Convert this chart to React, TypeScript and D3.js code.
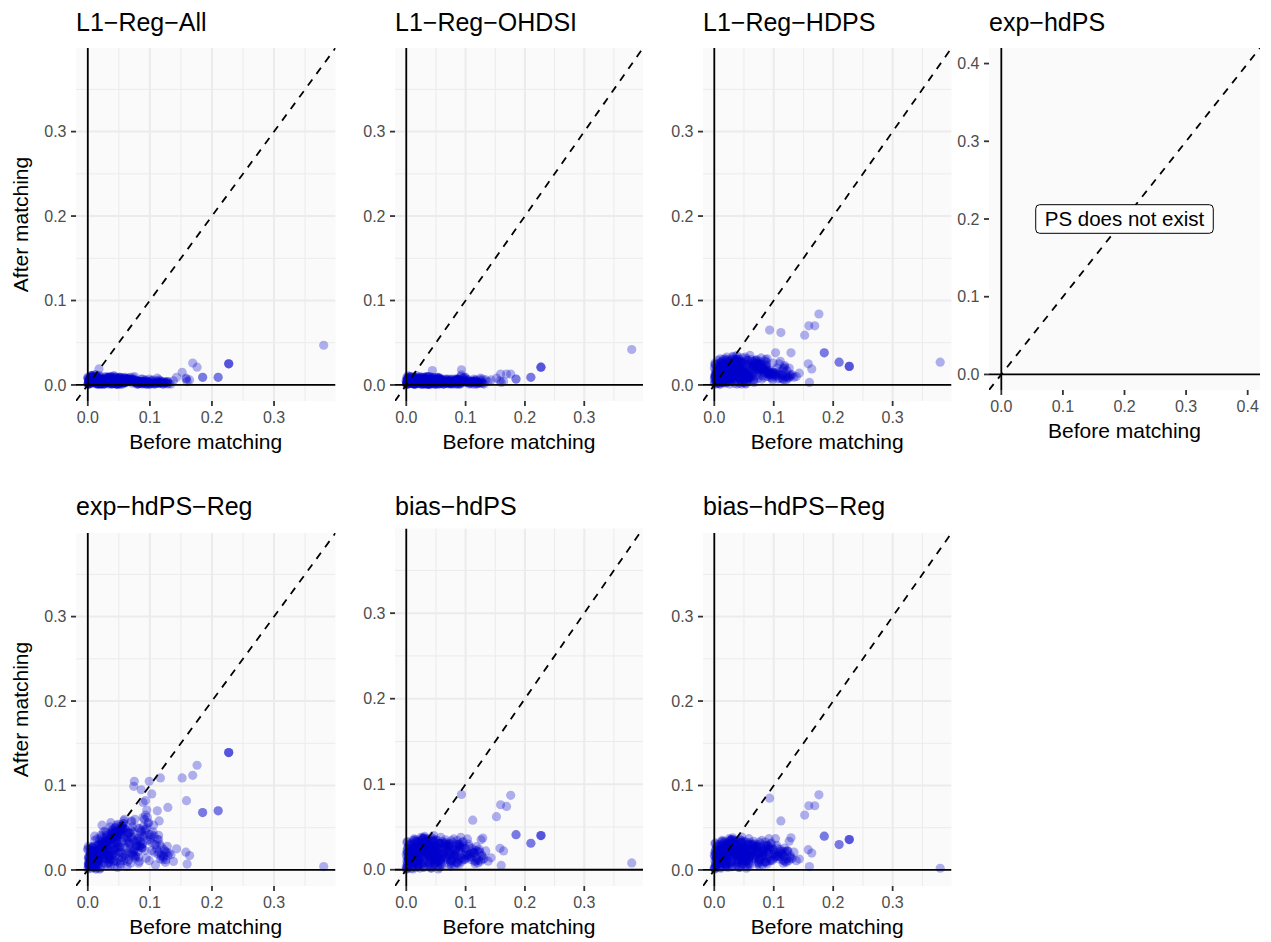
import React, { useEffect, useRef } from "react";
import * as d3 from "d3";

// ---------------- DATA ----------------
const panelTitles = [
  "L1−Reg−All",
  "L1−Reg−OHDSI",
  "L1−Reg−HDPS",
  "exp−hdPS",
  "exp−hdPS−Reg",
  "bias−hdPS",
  "bias−hdPS−Reg",
];

const xAxisTitle = "Before matching";
const yAxisTitle = "After matching";
const noPsLabel = "PS does not exist";
const noPsLabelPos = [0.2, 0.2];
const ticksMain = [0, 0.1, 0.2, 0.3];
const minorMain = [0.05, 0.15, 0.25, 0.35];
const ticksExp = [0, 0.1, 0.2, 0.3, 0.4];
const expHdPSLimit = 0.4;

// standardized difference before matching (same covariates in every panel)
const beforeMatching = [
  .001,.003,.000,.002,.006,.004,.001,.008,.005,.002,
  .009,.003,.007,.000,.004,.010,.006,.001,.008,.003,
  .012,.018,.011,.025,.015,.021,.013,.029,.017,.023,
  .010,.027,.014,.019,.026,.011,.022,.016,.028,.013,
  .020,.024,.015,.030,.012,.018,.026,.014,.021,.017,
  .029,.011,.023,.016,.027,.019,.013,.025,.022,.028,
  .031,.044,.036,.052,.039,.058,.033,.047,.041,.055,
  .035,.049,.032,.043,.057,.038,.051,.034,.046,.053,
  .040,.059,.037,.045,.050,.033,.042,.056,.048,.036,
  .054,.039,.031,.047,.044,.058,.035,.051,.041,.049,
  .037,.053,.043,.032,.056,.046,.039,.052,.034,.045,
  .062,.071,.085,.066,.093,.078,.064,.089,.073,.097,
  .068,.082,.061,.076,.091,.069,.084,.074,.099,.065,
  .080,.087,.063,.072,.095,.077,.067,.088,.083,.070,
  .092,.075,.061,.086,.079,.096,.066,.081,.090,.074,
  .102,.118,.107,.125,.111,.131,.105,.121,.114,.128,
  .109,.134,.116,.103,.123,
  .380,.227,.227,.227,.210,.210,.185,.185,.176,.169,
  .159,.152,.158,.164,.160,.143,.138,.129,.093,.112,
  .103,.117,.099,.075,.074,.086,.115,.122,.127,.114,
  .119,.018,
  .004,.011,.002,.016,.007,.013,.001,.019,.009,.005,
  .014,.003,.017,.008,.012,.000,.018,.006,.010,.015,
  .002,.020,.007,.013,.004,.016,.009,.001,.011,.018,
  .005,.014,.003,.019,.008,.012,.006,.017,.002,.010,
  .015,.004,.013,.007,.020,.001,.009,.016,.005,.011,
  .023,.041,.032,.055,.027,.048,.036,.059,.021,.044,
  .030,.052,.038,.025,.047,.034,.057,.029,.043,.050,
  .022,.039,.054,.031,.046,.026,.058,.035,.042,.028,
  .051,.037,.024,.049,.033,.056,.040,.027,.045,.053,
  .030,.021,.047,.036,.060,.025,.043,.038,.052,.032,
  .048,.023,.055,.034,.041,.028,.057,.039,.044,.026,
  .050,.031,.022,.046,.037,.054,.029,.042,.033,.059,
  .024,.045,.035,.051,.040,.027,.058,.032,.048,.038,
  .053,.025,.043,.030,.056,.036,.047,.022,.049,.034,
  .063,.081,.072,.094,.067,.108,.076,.088,.119,.070,
  .085,.064,.098,.079,.112,.069,.091,.074,.126,.083,
  .061,.101,.077,.089,.066,.115,.073,.096,.082,.106,
  .068,.087,.122,.075,.093,.062,.110,.080,.099,.071,
  .129,.084,.065,.103,.078,.092,.117,.070,.086,.095,
  .113,.067,.090,.124,.076,.100,.083,.064,.107,.088,
];

const afterL1RegAll = [
  .002,.004,.001,.006,.003,.008,.002,.005,.010,.001,
  .004,.007,.003,.009,.002,.005,.011,.001,.006,.003,
  .005,.002,.008,.004,.010,.001,.006,.003,.009,.004,
  .007,.002,.005,.011,.003,.008,.001,.006,.004,.009,
  .002,.007,.005,.003,.010,.001,.004,.008,.006,.002,
  .005,.009,.003,.007,.001,.004,.012,.006,.002,.008,
  .004,.007,.002,.005,.009,.003,.006,.001,.008,.004,
  .010,.002,.006,.003,.005,.008,.001,.007,.004,.009,
  .003,.006,.002,.005,.008,.004,.011,.001,.007,.003,
  .005,.002,.009,.004,.006,.003,.008,.001,.005,.007,
  .002,.004,.010,.006,.003,.008,.001,.005,.007,.002,
  .003,.006,.002,.005,.001,.004,.008,.002,.006,.003,
  .005,.001,.007,.003,.004,.009,.002,.005,.003,.006,
  .001,.004,.007,.002,.005,.003,.008,.001,.004,.006,
  .002,.005,.003,.007,.001,.004,.006,.002,.003,.005,
  .002,.004,.001,.003,.005,.002,.006,.001,.003,.004,
  .002,.001,.003,.005,.002,
  .047,.025,.025,.025,.009,.009,.009,.009,.021,.026,
  .007,.015,.008,.006,.004,.009,.005,.004,.006,.008,
  .005,.005,.007,.010,.008,.004,.006,.004,.003,.002,
  .003,.019,
  .003,.006,.001,.008,.004,.002,.007,.005,.010,.003,
  .001,.006,.009,.002,.005,.008,.004,.011,.003,.007,
  .005,.002,.009,.004,.006,.001,.008,.003,.012,.005,
  .007,.002,.004,.010,.006,.003,.009,.001,.005,.008,
  .002,.006,.004,.011,.003,.007,.005,.002,.009,.004,
  .006,.002,.008,.004,.001,.007,.003,.009,.005,.002,
  .006,.004,.010,.001,.005,.008,.003,.006,.002,.007,
  .004,.009,.001,.005,.003,.008,.002,.006,.004,.010,
  .003,.007,.005,.001,.008,.004,.002,.006,.009,.003,
  .005,.007,.001,.004,.008,.002,.006,.003,.005,.009,
  .002,.004,.007,.001,.006,.003,.008,.005,.002,.004,
  .009,.003,.006,.001,.005,.007,.002,.004,.008,.003,
  .006,.001,.005,.009,.002,.004,.007,.003,.006,.001,
  .008,.004,.002,.005,.007,.003,.006,.001,.004,.008,
  .004,.002,.006,.003,.005,.001,.004,.007,.002,.005,
  .003,.006,.001,.004,.002,.005,.003,.006,.002,.004,
  .007,.001,.005,.003,.006,.002,.004,.001,.005,.003,
  .006,.002,.001,.004,.003,.007,.002,.005,.003,.004,
  .001,.003,.006,.002,.004,.005,.002,.006,.003,.001,
  .004,.005,.002,.003,.006,.001,.004,.007,.002,.003,
];

const afterL1RegOHDSI = [
  .003,.001,.005,.002,.007,.004,.001,.009,.003,.006,
  .002,.008,.004,.001,.006,.003,.010,.002,.005,.004,
  .004,.006,.002,.009,.003,.005,.001,.007,.004,.010,
  .002,.006,.003,.008,.001,.005,.004,.007,.002,.009,
  .003,.005,.001,.006,.008,.002,.004,.007,.003,.011,
  .001,.005,.008,.002,.006,.004,.009,.003,.005,.001,
  .006,.017,.003,.007,.002,.005,.008,.001,.004,.009,
  .003,.006,.002,.007,.004,.010,.001,.005,.003,.008,
  .006,.002,.004,.009,.001,.005,.003,.007,.002,.006,
  .008,.004,.001,.005,.003,.007,.010,.002,.004,.006,
  .001,.008,.003,.005,.002,.007,.004,.009,.001,.006,
  .005,.002,.007,.003,.012,.004,.001,.006,.003,.008,
  .002,.005,.004,.007,.001,.003,.006,.002,.009,.004,
  .003,.006,.001,.005,.008,.002,.004,.007,.003,.005,
  .010,.002,.004,.006,.001,.003,.007,.005,.002,.004,
  .003,.005,.002,.008,.004,.001,.006,.003,.007,.002,
  .004,.006,.001,.005,.003,
  .042,.021,.021,.021,.009,.009,.007,.007,.013,.013,
  .013,.008,.005,.004,.003,.006,.004,.007,.018,.005,
  .006,.004,.009,.005,.006,.007,.003,.002,.005,.004,
  .002,.008,
  .005,.002,.007,.001,.004,.009,.003,.006,.002,.008,
  .004,.001,.006,.010,.003,.005,.002,.007,.004,.001,
  .008,.003,.005,.002,.009,.004,.006,.001,.003,.007,
  .002,.005,.011,.003,.006,.001,.004,.008,.002,.005,
  .007,.003,.001,.006,.004,.009,.002,.005,.003,.006,
  .003,.007,.002,.005,.009,.001,.004,.006,.002,.008,
  .005,.003,.001,.007,.004,.010,.002,.005,.006,.003,
  .008,.001,.004,.007,.002,.005,.003,.009,.001,.006,
  .004,.002,.008,.005,.003,.007,.001,.004,.006,.002,
  .009,.003,.005,.001,.007,.004,.002,.006,.003,.008,
  .005,.001,.004,.007,.002,.006,.003,.010,.004,.001,
  .005,.008,.002,.003,.006,.001,.007,.004,.002,.005,
  .003,.009,.001,.006,.004,.002,.007,.005,.003,.001,
  .006,.002,.008,.004,.001,.005,.003,.007,.002,.004,
  .003,.005,.001,.004,.006,.002,.003,.005,.001,.007,
  .004,.002,.005,.003,.001,.006,.004,.002,.003,.005,
  .002,.004,.006,.001,.003,.005,.002,.004,.007,.001,
  .003,.006,.002,.004,.005,.001,.003,.002,.006,.004,
  .002,.001,.005,.003,.004,.002,.006,.003,.001,.005,
  .004,.002,.003,.006,.001,.004,.002,.005,.003,.002,
];

const afterL1RegHDPS = [
  .012,.004,.020,.008,.015,.002,.024,.010,.006,.017,
  .003,.013,.021,.007,.018,.001,.011,.026,.005,.014,
  .018,.007,.025,.012,.003,.029,.015,.009,.022,.005,
  .031,.011,.019,.002,.026,.014,.008,.023,.017,.004,
  .028,.010,.020,.006,.016,.024,.001,.013,.030,.009,
  .021,.003,.027,.012,.007,.019,.025,.015,.005,.022,
  .014,.026,.006,.033,.019,.009,.028,.003,.022,.012,
  .030,.017,.007,.024,.011,.035,.016,.002,.027,.013,
  .020,.008,.031,.018,.005,.025,.010,.029,.015,.021,
  .004,.026,.012,.032,.018,.009,.023,.006,.028,.014,
  .019,.001,.027,.011,.024,.016,.030,.008,.020,.013,
  .020,.012,.028,.006,.017,.024,.010,.031,.015,.008,
  .025,.018,.004,.022,.013,.029,.009,.019,.026,.014,
  .007,.023,.016,.030,.011,.021,.003,.027,.015,.018,
  .012,.025,.009,.020,.032,.014,.006,.024,.017,.011,
  .010,.023,.015,.008,.028,.012,.020,.006,.017,.013,
  .025,.009,.019,.014,.011,
  .027,.022,.022,.022,.027,.027,.038,.038,.084,.070,
  .070,.059,.025,.019,.003,.014,.010,.038,.065,.062,
  .038,.020,.015,.025,.018,.030,.012,.017,.011,.008,
  .021,.031,
  .016,.007,.024,.003,.012,.028,.009,.019,.001,.014,
  .022,.005,.017,.010,.026,.002,.013,.020,.008,.030,
  .011,.004,.018,.025,.006,.015,.021,.003,.027,.009,
  .013,.019,.001,.023,.008,.016,.029,.005,.011,.020,
  .024,.007,.014,.002,.018,.010,.026,.004,.012,.022,
  .020,.009,.031,.014,.004,.026,.017,.011,.033,.006,
  .023,.015,.001,.028,.012,.019,.008,.030,.016,.003,
  .025,.010,.021,.034,.007,.018,.013,.027,.002,.022,
  .015,.029,.005,.019,.011,.024,.032,.008,.017,.013,
  .026,.003,.020,.012,.035,.016,.006,.023,.010,.028,
  .014,.021,.004,.018,.030,.009,.025,.015,.007,.019,
  .027,.011,.022,.001,.017,.031,.013,.024,.008,.020,
  .005,.028,.016,.012,.026,.019,.009,.033,.014,.021,
  .002,.024,.018,.010,.029,.006,.015,.025,.011,.017,
  .018,.011,.024,.009,.027,.013,.021,.015,.010,.029,
  .014,.022,.006,.019,.012,.026,.016,.008,.020,.017,
  .025,.012,.018,.010,.023,.007,.028,.014,.020,.011,
  .016,.024,.009,.021,.013,.030,.008,.019,.015,.026,
  .010,.017,.022,.012,.027,.014,.006,.023,.018,.013,
  .011,.020,.016,.009,.025,.014,.019,.028,.007,.021,
];

// exp-hdPS: the propensity score does not exist, no points
const afterExpHdPS: number[] = [];

const afterExpHdPSReg = [
  .015,.005,.024,.010,.002,.019,.008,.027,.012,.004,
  .021,.007,.016,.001,.025,.011,.018,.006,.022,.013,
  .022,.008,.035,.014,.029,.003,.018,.038,.011,.026,
  .005,.032,.016,.024,.009,.040,.020,.013,.034,.002,
  .027,.017,.037,.007,.023,.030,.012,.019,.041,.006,
  .028,.015,.033,.010,.021,.036,.004,.025,.031,.018,
  .025,.040,.012,.046,.031,.055,.008,.036,.020,.049,
  .015,.043,.028,.005,.038,.022,.052,.033,.010,.045,
  .018,.060,.029,.041,.014,.035,.024,.048,.003,.039,
  .027,.044,.017,.032,.050,.011,.037,.021,.047,.030,
  .006,.042,.026,.034,.019,.053,.013,.046,.023,.036,
  .035,.020,.045,.012,.065,.028,.040,.080,.018,.055,
  .030,.015,.048,.025,.060,.008,.038,.022,.042,.033,
  .050,.026,.004,.036,.071,.017,.044,.031,.010,.057,
  .023,.039,.014,.047,.029,.062,.021,.034,.052,.016,
  .033,.016,.040,.009,.025,.020,.045,.012,.036,.028,
  .006,.018,.030,.042,.024,
  .004,.139,.139,.139,.070,.070,.068,.068,.124,.112,
  .082,.109,.021,.017,.007,.025,.010,.074,.082,.070,
  .090,.109,.105,.105,.099,.095,.058,.017,.021,.041,
  .027,.025,
  .012,.021,.004,.017,.027,.008,.014,.001,.023,.010,
  .019,.006,.030,.015,.003,.025,.011,.018,.007,.022,
  .016,.002,.026,.009,.020,.013,.005,.028,.018,.011,
  .024,.007,.015,.029,.003,.019,.012,.021,.008,.026,
  .014,.010,.001,.023,.017,.006,.028,.013,.020,.009,
  .030,.045,.018,.052,.026,.038,.012,.049,.034,.021,
  .041,.008,.036,.028,.047,.016,.055,.031,.023,.043,
  .014,.037,.050,.025,.040,.019,.058,.033,.010,.046,
  .027,.042,.022,.054,.035,.015,.048,.029,.039,.006,
  .044,.024,.032,.051,.017,.036,.011,.046,.028,.040,
  .020,.053,.033,.009,.043,.025,.048,.037,.016,.031,
  .047,.013,.039,.027,.056,.021,.034,.044,.005,.038,
  .024,.050,.019,.042,.030,.014,.049,.035,.026,.041,
  .011,.045,.032,.022,.052,.018,.039,.029,.046,.015,
  .038,.022,.051,.014,.044,.030,.060,.026,.018,.047,
  .033,.010,.056,.028,.036,.019,.041,.024,.012,.049,
  .027,.039,.016,.062,.031,.021,.045,.035,.008,.053,
  .025,.042,.015,.034,.048,.020,.030,.037,.011,.058,
  .017,.029,.043,.023,.035,.046,.013,.039,.027,.050,
  .019,.032,.040,.022,.014,.036,.028,.044,.021,.031,
];

const afterBiasHdPS = [
  .010,.003,.018,.007,.022,.013,.001,.016,.005,.020,
  .009,.025,.012,.004,.017,.008,.023,.002,.014,.011,
  .015,.026,.006,.020,.032,.011,.024,.003,.029,.017,
  .008,.022,.035,.013,.019,.001,.027,.010,.031,.016,
  .005,.023,.012,.037,.018,.007,.028,.014,.021,.033,
  .009,.025,.002,.019,.030,.012,.036,.006,.024,.015,
  .020,.033,.011,.027,.004,.038,.016,.029,.008,.024,
  .035,.013,.022,.002,.031,.018,.009,.026,.040,.014,
  .028,.006,.021,.034,.012,.030,.017,.003,.025,.036,
  .010,.023,.039,.015,.027,.007,.032,.019,.013,.029,
  .024,.005,.037,.020,.011,.034,.016,.026,.009,.022,
  .018,.028,.009,.035,.014,.024,.031,.006,.021,.012,
  .027,.016,.033,.004,.022,.019,.030,.010,.025,.015,
  .036,.008,.020,.029,.013,.026,.032,.011,.023,.017,
  .038,.007,.019,.034,.014,.028,.022,.005,.030,.016,
  .014,.027,.018,.010,.025,.013,.030,.008,.020,.016,
  .012,.022,.007,.017,.024,
  .008,.040,.040,.040,.031,.031,.041,.041,.087,.074,
  .076,.062,.025,.022,.005,.014,.010,.037,.088,.058,
  .036,.015,.012,.022,.030,.028,.010,.011,.017,.020,
  .012,.033,
  .014,.025,.006,.019,.031,.010,.022,.003,.017,.028,
  .008,.020,.035,.012,.024,.001,.016,.029,.009,.021,
  .033,.005,.018,.026,.011,.023,.002,.015,.030,.007,
  .019,.027,.013,.004,.022,.034,.010,.018,.025,.006,
  .016,.029,.003,.021,.012,.032,.008,.024,.015,.020,
  .022,.011,.030,.017,.036,.006,.025,.014,.033,.019,
  .003,.027,.016,.038,.010,.023,.031,.008,.020,.035,
  .013,.028,.001,.024,.018,.034,.009,.026,.015,.037,
  .021,.005,.029,.012,.032,.019,.025,.007,.036,.016,
  .027,.011,.033,.022,.004,.030,.017,.026,.013,.035,
  .009,.024,.031,.018,.002,.028,.020,.034,.012,.026,
  .015,.037,.007,.023,.030,.010,.027,.019,.033,.014,
  .025,.004,.031,.021,.016,.036,.011,.028,.022,.008,
  .034,.017,.026,.013,.030,.020,.006,.032,.024,.018,
  .024,.016,.031,.010,.027,.019,.034,.013,.022,.029,
  .008,.025,.017,.032,.021,.012,.028,.018,.035,.014,
  .026,.020,.011,.030,.016,.023,.006,.033,.019,.027,
  .013,.029,.021,.009,.025,.031,.015,.022,.018,.028,
  .012,.024,.030,.017,.020,.026,.010,.023,.016,.032,
  .019,.014,.027,.021,.011,.025,.018,.029,.015,.022,
];

const afterBiasHdPSReg = [
  .011,.004,.017,.006,.021,.014,.002,.015,.006,.019,
  .008,.024,.013,.003,.016,.009,.022,.001,.015,.010,
  .016,.025,.007,.021,.031,.010,.025,.004,.028,.018,
  .007,.023,.034,.012,.020,.002,.026,.011,.030,.015,
  .006,.024,.011,.036,.017,.008,.027,.015,.022,.032,
  .010,.024,.003,.018,.031,.013,.035,.005,.023,.016,
  .021,.032,.012,.026,.005,.037,.015,.030,.009,.023,
  .034,.014,.021,.003,.032,.017,.010,.025,.039,.015,
  .027,.007,.022,.033,.011,.031,.018,.004,.024,.035,
  .011,.022,.038,.016,.026,.008,.031,.020,.012,.028,
  .025,.006,.036,.019,.012,.033,.017,.025,.010,.021,
  .019,.027,.010,.034,.015,.023,.030,.007,.022,.011,
  .026,.017,.032,.005,.021,.020,.029,.009,.024,.016,
  .035,.009,.021,.028,.012,.027,.031,.010,.024,.018,
  .037,.008,.018,.033,.015,.027,.023,.006,.029,.015,
  .015,.026,.017,.011,.024,.014,.029,.009,.019,.017,
  .013,.021,.008,.016,.023,
  .002,.036,.036,.036,.030,.030,.040,.040,.089,.076,
  .076,.065,.024,.020,.004,.013,.011,.038,.085,.058,
  .037,.016,.013,.020,.028,.025,.012,.013,.015,.018,
  .010,.030,
  .015,.024,.007,.018,.030,.011,.021,.004,.016,.027,
  .009,.021,.034,.013,.023,.002,.017,.028,.010,.020,
  .032,.006,.019,.025,.012,.022,.003,.016,.029,.008,
  .018,.026,.014,.005,.021,.033,.011,.019,.024,.007,
  .017,.028,.004,.020,.013,.031,.009,.023,.016,.019,
  .021,.012,.029,.018,.035,.007,.024,.015,.032,.020,
  .004,.026,.017,.037,.011,.022,.030,.009,.021,.034,
  .014,.027,.002,.023,.019,.033,.010,.025,.016,.036,
  .020,.006,.028,.013,.031,.018,.026,.008,.035,.017,
  .026,.012,.032,.021,.005,.029,.018,.025,.014,.034,
  .010,.023,.030,.019,.003,.027,.021,.033,.013,.025,
  .016,.036,.008,.022,.029,.011,.026,.020,.032,.015,
  .024,.005,.030,.022,.017,.035,.012,.027,.021,.009,
  .033,.018,.025,.014,.029,.021,.007,.031,.023,.019,
  .023,.017,.030,.011,.026,.020,.033,.014,.021,.028,
  .009,.024,.018,.031,.022,.013,.027,.019,.034,.015,
  .025,.021,.012,.029,.017,.022,.007,.032,.020,.026,
  .014,.028,.022,.010,.024,.030,.016,.021,.019,.027,
  .013,.023,.029,.018,.021,.025,.011,.022,.017,.031,
  .020,.015,.026,.022,.012,.024,.019,.028,.016,.021,
];

const afterSeries = [
  afterL1RegAll,
  afterL1RegOHDSI,
  afterL1RegHDPS,
  afterExpHdPS,
  afterExpHdPSReg,
  afterBiasHdPS,
  afterBiasHdPSReg,
];

// ---------------- LAYOUT ----------------
const layout = [
  { l: 76, r: 335.5, t: 48, b: 401, titleY: 30.5, yTitle: true },
  { l: 395, r: 643, t: 48, b: 401, titleY: 30.5, yTitle: false },
  { l: 703, r: 951.5, t: 48, b: 401, titleY: 30.5, yTitle: false },
  { l: 989, r: 1260, t: 48, b: 390, titleY: 30.5, yTitle: false },
  { l: 76, r: 335.5, t: 533, b: 886, titleY: 515, yTitle: true },
  { l: 395, r: 643, t: 528.5, b: 886, titleY: 515, yTitle: false },
  { l: 703, r: 951.5, t: 533, b: 886, titleY: 515, yTitle: false },
];

const FONT = "'Liberation Sans', Arial, Helvetica, sans-serif";
const POINT_COLOR = "#0000CD";
const PANEL_BG = "#FAFAFA";
const GRID = "#EBEBEB";

export default function App() {
  const ref = useRef<SVGSVGElement>(null);

  useEffect(() => {
    const svg = d3.select(ref.current);
    svg.selectAll("*").remove();
    const defs = svg.append("defs");
    const dataLimit = d3.max(beforeMatching) as number;

    panelTitles.forEach((title, i) => {
      const L = layout[i];
      const after = afterSeries[i];
      const hasPs = after.length > 0;
      const lim = hasPs ? dataLimit : expHdPSLimit;
      const dom = [-lim * 0.05, lim * 1.05];
      const ticks = hasPs ? ticksMain : ticksExp;
      const x = d3.scaleLinear().domain(dom).range([L.l, L.r]);
      const y = d3.scaleLinear().domain(dom).range([L.b, L.t]);

      const clipId = `panel-clip-${i}`;
      defs
        .append("clipPath")
        .attr("id", clipId)
        .append("rect")
        .attr("x", L.l)
        .attr("y", L.t)
        .attr("width", L.r - L.l)
        .attr("height", L.b - L.t);

      const g = svg.append("g");
      g.append("rect")
        .attr("x", L.l)
        .attr("y", L.t)
        .attr("width", L.r - L.l)
        .attr("height", L.b - L.t)
        .attr("fill", PANEL_BG);

      const inner = g.append("g").attr("clip-path", `url(#${clipId})`);

      if (hasPs) {
        minorMain.forEach((v) => {
          inner.append("line").attr("x1", x(v)).attr("x2", x(v)).attr("y1", L.t).attr("y2", L.b)
            .attr("stroke", GRID).attr("stroke-width", 1);
          inner.append("line").attr("x1", L.l).attr("x2", L.r).attr("y1", y(v)).attr("y2", y(v))
            .attr("stroke", GRID).attr("stroke-width", 1);
        });
        ticks.forEach((v) => {
          inner.append("line").attr("x1", x(v)).attr("x2", x(v)).attr("y1", L.t).attr("y2", L.b)
            .attr("stroke", GRID).attr("stroke-width", 2);
          inner.append("line").attr("x1", L.l).attr("x2", L.r).attr("y1", y(v)).attr("y2", y(v))
            .attr("stroke", GRID).attr("stroke-width", 2);
        });
        const pts = after
          .map((a, k) => [beforeMatching[k], a])
          .filter((d) => d[0] !== undefined && d[1] !== undefined);
        inner
          .append("g")
          .selectAll("circle")
          .data(pts)
          .join("circle")
          .attr("cx", (d) => x(d[0]))
          .attr("cy", (d) => y(d[1]))
          .attr("r", 4.6)
          .attr("fill", POINT_COLOR)
          .attr("fill-opacity", 0.3);
      }

      inner.append("line").attr("x1", L.l).attr("x2", L.r).attr("y1", y(0)).attr("y2", y(0))
        .attr("stroke", "#000").attr("stroke-width", 1.8);
      inner.append("line").attr("x1", x(0)).attr("x2", x(0)).attr("y1", L.t).attr("y2", L.b)
        .attr("stroke", "#000").attr("stroke-width", 1.8);
      inner.append("line")
        .attr("x1", x(dom[0])).attr("y1", y(dom[0]))
        .attr("x2", x(dom[1])).attr("y2", y(dom[1]))
        .attr("stroke", "#000").attr("stroke-width", 1.8)
        .attr("stroke-dasharray", "7.5,7");

      ticks.forEach((v) => {
        g.append("line").attr("x1", x(v)).attr("x2", x(v)).attr("y1", L.b).attr("y2", L.b + 5)
          .attr("stroke", "#333").attr("stroke-width", 1.8);
        g.append("text").attr("x", x(v)).attr("y", L.b + 22)
          .attr("text-anchor", "middle").attr("font-family", FONT).attr("font-size", 16)
          .attr("fill", "#4D4D4D").text(d3.format(".1f")(v));
        g.append("line").attr("x1", L.l - 5).attr("x2", L.l).attr("y1", y(v)).attr("y2", y(v))
          .attr("stroke", "#333").attr("stroke-width", 1.8);
        g.append("text").attr("x", L.l - 9.5).attr("y", y(v) + 5.7)
          .attr("text-anchor", "end").attr("font-family", FONT).attr("font-size", 16)
          .attr("fill", "#4D4D4D").text(d3.format(".1f")(v));
      });

      g.append("text").attr("x", L.l).attr("y", L.titleY)
        .attr("font-family", FONT).attr("font-size", 25).attr("fill", "#000").text(title);
      g.append("text").attr("x", (L.l + L.r) / 2).attr("y", L.b + 47.5)
        .attr("text-anchor", "middle").attr("font-family", FONT).attr("font-size", 21)
        .attr("fill", "#000").text(xAxisTitle);
      if (L.yTitle) {
        const cy = (L.t + L.b) / 2;
        g.append("text").attr("transform", `translate(28.3,${cy}) rotate(-90)`)
          .attr("text-anchor", "middle").attr("font-family", FONT).attr("font-size", 21)
          .attr("fill", "#000").text(yAxisTitle);
      }

      if (!hasPs) {
        const lx = x(noPsLabelPos[0]);
        const ly = y(noPsLabelPos[1]);
        const lg = g.append("g");
        const rect = lg.append("rect");
        const txt = lg.append("text").attr("x", lx).attr("y", ly + 7.3)
          .attr("text-anchor", "middle").attr("font-family", FONT).attr("font-size", 20.5)
          .attr("fill", "#000").text(noPsLabel);
        const w = (txt.node() as SVGTextElement).getComputedTextLength() + 18;
        const h = 28.6;
        rect.attr("x", lx - w / 2).attr("y", ly - h / 2).attr("width", w).attr("height", h)
          .attr("rx", 4).attr("ry", 4).attr("fill", "#fff").attr("stroke", "#000").attr("stroke-width", 1);
      }
    });
  }, []);

  return (
    <svg
      ref={ref}
      width={1271}
      height={942}
      style={{ position: "absolute", left: 0, top: 0, background: "#fff" }}
    />
  );
}
